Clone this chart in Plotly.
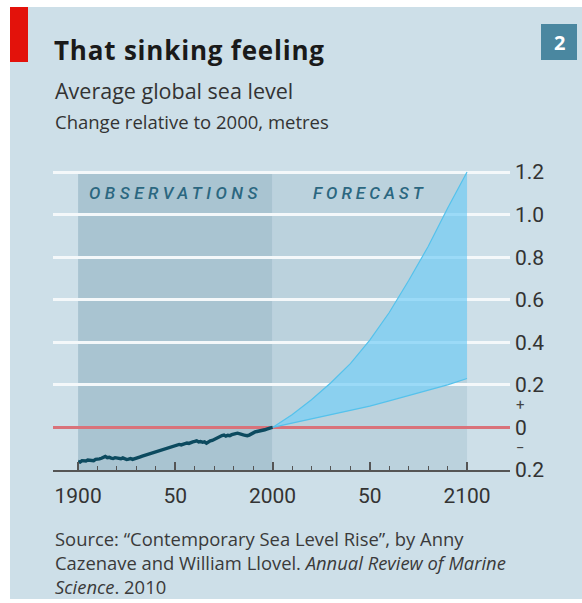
import plotly.graph_objects as go

# ---------------- data ----------------
obs_years = list(range(1900, 2001))
obs_level = [-0.160, -0.163, -0.156, -0.159, -0.158, -0.153, -0.155, -0.158, -0.156, -0.150,
             -0.151, -0.148, -0.145, -0.139, -0.136, -0.142, -0.140, -0.144, -0.146, -0.142,
             -0.144, -0.149, -0.147, -0.143, -0.146, -0.151, -0.149, -0.146, -0.150, -0.146,
             -0.143, -0.140, -0.138, -0.135, -0.132, -0.131, -0.128, -0.123, -0.120, -0.119,
             -0.116, -0.113, -0.110, -0.108, -0.104, -0.098, -0.095, -0.094, -0.090, -0.088,
             -0.087, -0.083, -0.080, -0.082, -0.078, -0.075, -0.073, -0.075, -0.070, -0.068,
             -0.066, -0.063, -0.068, -0.066, -0.070, -0.068, -0.074, -0.068, -0.063, -0.061,
             -0.056, -0.053, -0.047, -0.043, -0.038, -0.036, -0.041, -0.037, -0.039, -0.034,
             -0.030, -0.029, -0.027, -0.031, -0.033, -0.035, -0.037, -0.039, -0.036, -0.030,
             -0.025, -0.021, -0.019, -0.018, -0.016, -0.013, -0.011, -0.008, -0.003, -0.002,
             0.000]

fc_years = [2000, 2010, 2020, 2030, 2040, 2050, 2060, 2070, 2080, 2090, 2100]
fc_upper = [0.0, 0.06, 0.13, 0.21, 0.30, 0.41, 0.54, 0.69, 0.85, 1.03, 1.20]
fc_lower = [0.0, 0.02, 0.04, 0.06, 0.08, 0.10, 0.125, 0.15, 0.175, 0.20, 0.23]

x_tickvals = [1900, 1950, 2000, 2050, 2100]
x_ticktext = ["1900", "50", "2000", "50", "2100"]
x_minor = [1910, 1920, 1930, 1940, 1960, 1970, 1980, 1990, 2010, 2020, 2030, 2040, 2060, 2070, 2080, 2090]
y_tickvals = [-0.2, 0, 0.2, 0.4, 0.6, 0.8, 1.0, 1.2]
y_ticktext = ["0.2", "0", "0.2", "0.4", "0.6", "0.8", "1.0", "1.2"]

title = "That sinking feeling"
subtitle = "Average global sea level"
unit_line = "Change relative to 2000, metres"
source = ("Source: \u201cContemporary Sea Level Rise\u201d, by Anny<br>"
          "Cazenave and William Llovel. <i>Annual Review of Marine</i><br>"
          "<i>Science</i>. 2010")

# ---------------- geometry ----------------
W, H = 582, 603
ML, MR, MT, MB = 53, 72, 160, 133
PW, PH = W - ML - MR, H - MT - MB


def px(x):
    return (x - ML) / PW


def py(y):
    return 1 - (y - MT) / PH


FONT = "'Open Sans', Roboto, sans-serif"
TICKFONT = "Roboto, 'Open Sans', sans-serif"
BG = "#cddfe8"
OBS_BG = "#a9c4d1"
FC_BG = "#bbd2dd"

fig = go.Figure()

fig.add_trace(go.Scatter(x=fc_years, y=fc_lower, mode="lines",
                         line=dict(color="#55c2ec", width=1.2), hoverinfo="skip", showlegend=False))
fig.add_trace(go.Scatter(x=fc_years, y=fc_upper, mode="lines", fill="tonexty",
                         fillcolor="rgba(120,207,245,0.72)",
                         line=dict(color="#55c2ec", width=1.2), hoverinfo="skip", showlegend=False))
fig.add_trace(go.Scatter(x=obs_years, y=obs_level, mode="lines",
                         line=dict(color="#0c4a5f", width=3.4), hoverinfo="skip", showlegend=False))

shapes = [
    dict(type="rect", xref="paper", yref="paper", x0=px(10), x1=px(582), y0=py(7), y1=py(599),
         fillcolor=BG, line=dict(width=0), layer="below"),
    dict(type="rect", xref="paper", yref="paper", x0=px(10), x1=px(28), y0=py(7), y1=py(62),
         fillcolor="#e3120b", line=dict(width=0), layer="below"),
    dict(type="rect", xref="paper", yref="paper", x0=px(541), x1=px(577), y0=py(24), y1=py(60),
         fillcolor="#4a87a0", line=dict(width=0), layer="below"),
    dict(type="rect", xref="x", yref="y", x0=1900, x1=2000, y0=-0.2, y1=1.2,
         fillcolor=OBS_BG, line=dict(width=0), layer="below"),
    dict(type="rect", xref="x", yref="y", x0=2000, x1=2100, y0=-0.2, y1=1.2,
         fillcolor=FC_BG, line=dict(width=0), layer="below"),
]

ann = [
    dict(text='<span style="letter-spacing:0.8px">' + title + '</span>', x=px(52), y=py(50),
         xanchor="left", yanchor="middle",
         font=dict(family=FONT, size=26, color="#1a1a1a", weight="bold")),
    dict(text=subtitle, x=px(53), y=py(91), xanchor="left", yanchor="middle",
         font=dict(family=FONT, size=21.5, color="#333333")),
    dict(text=unit_line, x=px(53), y=py(121), xanchor="left", yanchor="middle",
         font=dict(family=FONT, size=18.5, color="#333333")),
    dict(text="2", x=px(559), y=py(42), xanchor="center", yanchor="middle",
         font=dict(family=FONT, size=20, color="white", weight="bold")),
    dict(text='<span style="letter-spacing:4.5px">OBSERVATIONS</span>', x=1950, y=py(193), xref="x",
         xanchor="center", yanchor="middle",
         font=dict(family=TICKFONT, size=17, color="#2b6780", style="italic", weight=500)),
    dict(text='<span style="letter-spacing:4px">FORECAST</span>', x=2050, y=py(193), xref="x",
         xanchor="center", yanchor="middle",
         font=dict(family=TICKFONT, size=17, color="#2b6780", style="italic", weight=500)),
    dict(text="+", x=px(520), y=0.105, yref="y", xanchor="center", yanchor="middle",
         font=dict(family=TICKFONT, size=15, color="#444444")),
    dict(text="\u2212", x=px(520), y=-0.095, yref="y", xanchor="center", yanchor="middle",
         font=dict(family=TICKFONT, size=15, color="#444444")),
    dict(text=source, x=px(53), y=py(524), xanchor="left", yanchor="top", align="left",
         font=dict(family=FONT, size=18.4, color="#3a3a3a")),
]
for a in ann:
    a.setdefault("xref", "paper")
    a.setdefault("yref", "paper")
    a["showarrow"] = False

fig.update_layout(
    width=W, height=H,
    margin=dict(l=ML, r=MR, t=MT, b=MB, pad=0),
    paper_bgcolor="white", plot_bgcolor="rgba(0,0,0,0)",
    shapes=shapes, annotations=ann, showlegend=False,
    xaxis=dict(range=[1887.1, 2122.1], tickvals=x_tickvals, ticktext=x_ticktext,
               ticks="inside", ticklen=8, tickwidth=1.5, tickcolor="#555555",
               showline=True, linecolor="#555555", linewidth=1.5, showgrid=False, zeroline=False,
               ticklabelstandoff=6,
               minor=dict(tickvals=x_minor, ticks="inside", ticklen=4, tickwidth=1.2,
                          tickcolor="#555555", showgrid=False),
               tickfont=dict(family=TICKFONT, size=21, color="#333333"), fixedrange=True),
    yaxis=dict(range=[-0.2, 1.2565], side="right", tickvals=y_tickvals, ticktext=y_ticktext,
               showgrid=True, gridcolor="#f4f8fa", gridwidth=3,
               zeroline=True, zerolinecolor="#d9727a", zerolinewidth=3,
               showline=False, ticks="", ticklabelstandoff=4,
               tickfont=dict(family=TICKFONT, size=21, color="#333333"), fixedrange=True),
)

fig.write_html("out.html", config={"displayModeBar": False},
               post_script="document.body.style.margin='0px';document.body.style.overflow='hidden';")
